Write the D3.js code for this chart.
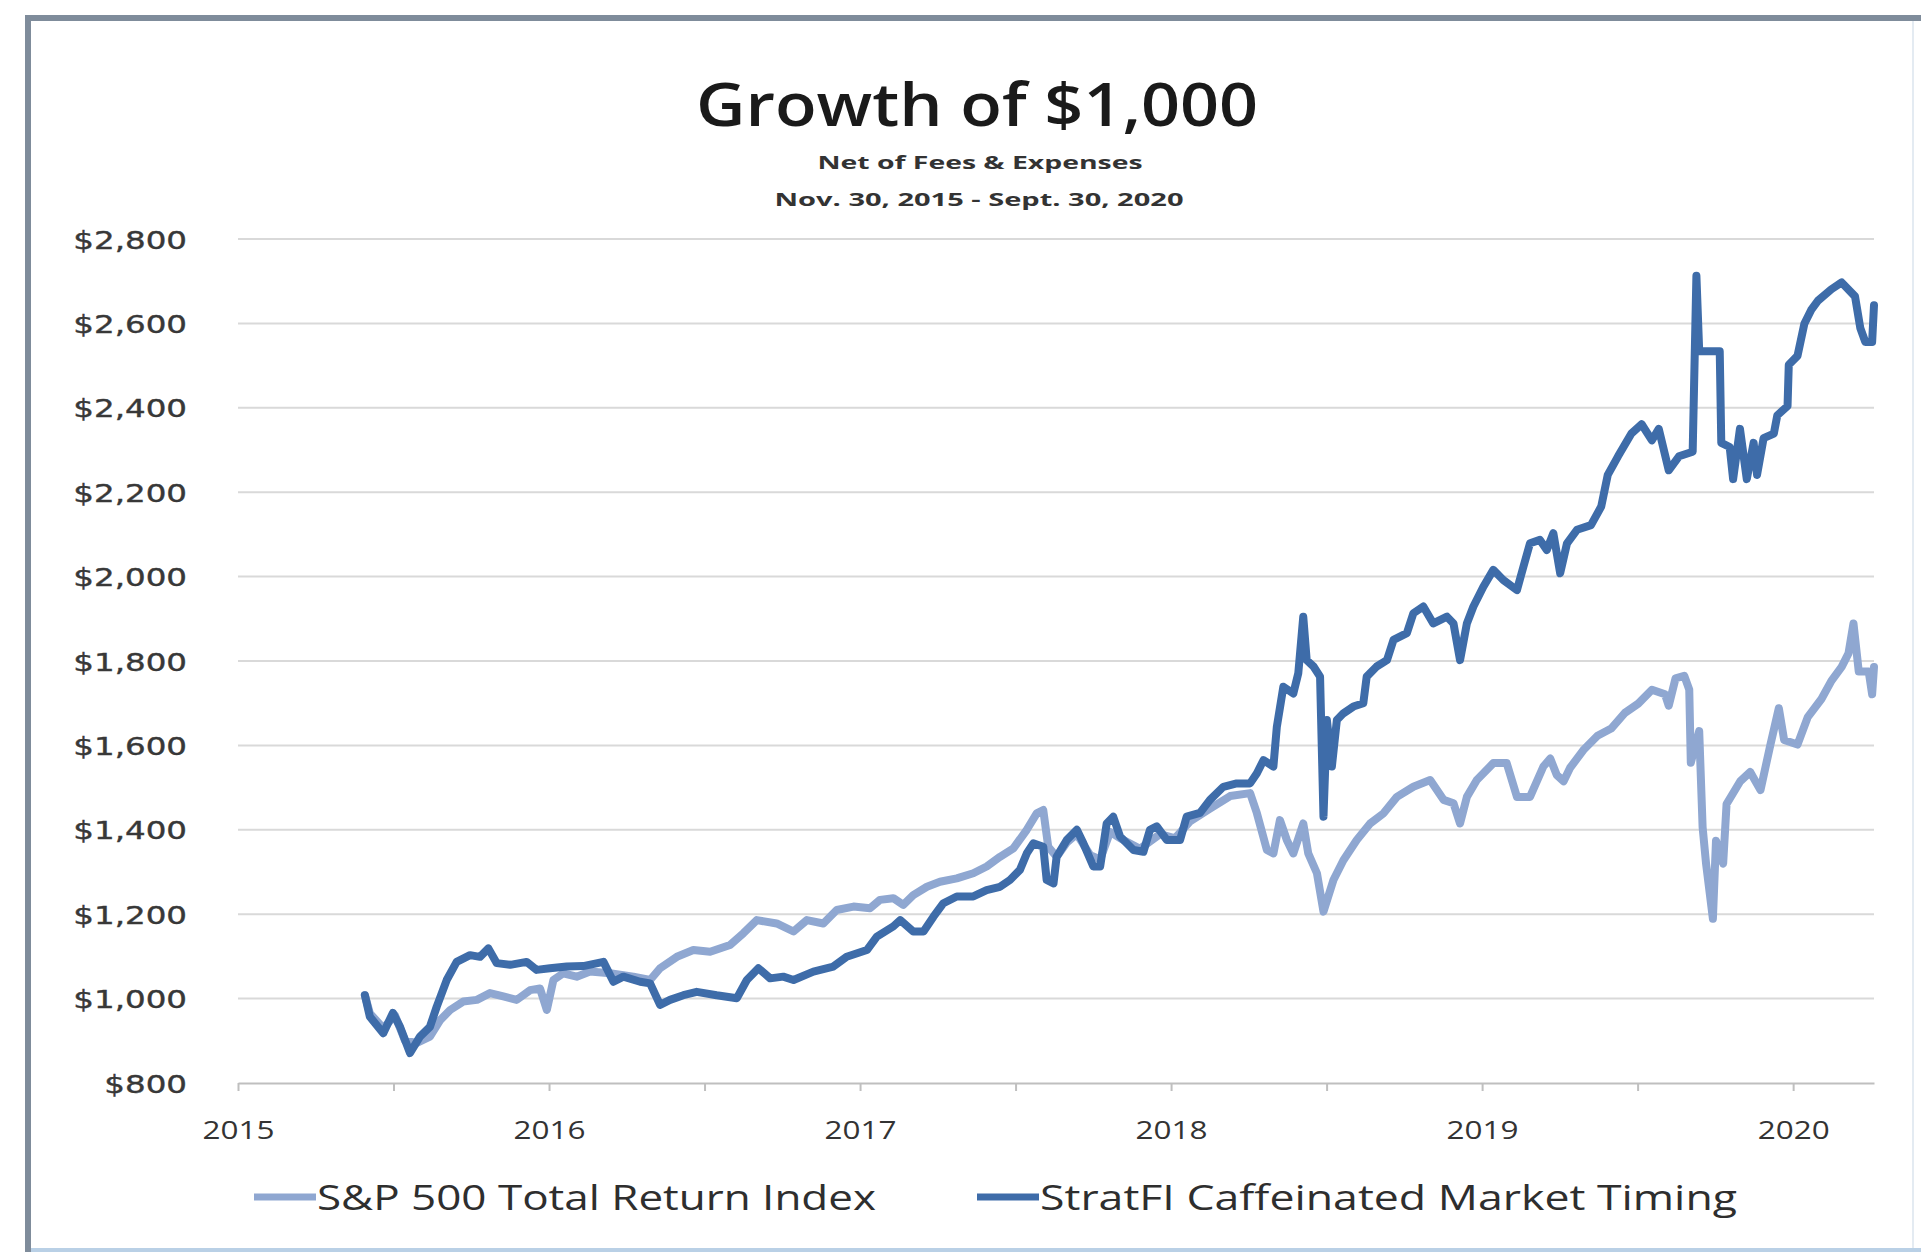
<!DOCTYPE html>
<html>
<head>
<meta charset="utf-8">
<script src="https://cdn.jsdelivr.net/npm/d3@7"></script>
<style>
  html, body { margin: 0; padding: 0; background: #ffffff; }
  svg { display: block; }
</style>
</head>
<body>
<svg id="chart" width="1921" height="1252"></svg>
<script>
// ---------- data (x = position on the chart's year axis, y = dollars) ----------
const yTicks = [800, 1000, 1200, 1400, 1600, 1800, 2000, 2200, 2400, 2600, 2800];
const xTickValues = [2015, 2015.5, 2016, 2016.5, 2017, 2017.5, 2018, 2018.5, 2019, 2019.5, 2020];
const xTickLabels = ["2015", "", "2016", "", "2017", "", "2018", "", "2019", "", "2020"];
const seriesNames = ["S&P 500 Total Return Index", "StratFI Caffeinated Market Timing"];

const sp500 = [
  [2015.408,1008],[2015.424,965],[2015.467,930],[2015.505,960],[2015.537,900],[2015.575,895],
  [2015.617,910],[2015.650,949],[2015.682,973],[2015.724,993],[2015.768,997],[2015.810,1013],
  [2015.853,1005],[2015.896,997],[2015.939,1020],[2015.971,1024],[2015.993,973],[2016.014,1044],
  [2016.046,1060],[2016.089,1052],[2016.132,1064],[2016.196,1060],[2016.271,1052],[2016.325,1044],
  [2016.357,1072],[2016.411,1099],[2016.464,1115],[2016.518,1111],[2016.582,1127],[2016.625,1155],
  [2016.668,1186],[2016.732,1178],[2016.786,1159],[2016.829,1186],[2016.882,1178],[2016.925,1210],
  [2016.979,1218],[2017.032,1214],[2017.064,1234],[2017.107,1238],[2017.139,1222],[2017.171,1245],
  [2017.215,1265],[2017.257,1277],[2017.311,1285],[2017.364,1297],[2017.407,1313],[2017.450,1336],
  [2017.493,1356],[2017.536,1400],[2017.568,1439],[2017.589,1447],[2017.605,1360],[2017.632,1336],
  [2017.665,1370],[2017.697,1390],[2017.740,1340],[2017.772,1330],[2017.804,1395],[2017.836,1380],
  [2017.900,1355],[2017.965,1390],[2018.013,1380],[2018.061,1420],[2018.125,1450],[2018.190,1480],
  [2018.254,1487],[2018.276,1439],[2018.308,1352],[2018.329,1344],[2018.350,1423],[2018.372,1376],
  [2018.393,1344],[2018.425,1415],[2018.441,1344],[2018.469,1297],[2018.490,1206],[2018.522,1281],
  [2018.554,1328],[2018.597,1376],[2018.640,1415],[2018.683,1439],[2018.726,1478],[2018.779,1502],
  [2018.833,1518],[2018.876,1471],[2018.908,1463],[2018.929,1415],[2018.951,1478],[2018.983,1518],
  [2019.036,1558],[2019.079,1558],[2019.112,1478],[2019.154,1478],[2019.197,1550],[2019.219,1569],
  [2019.240,1530],[2019.262,1515],[2019.283,1547],[2019.328,1591],[2019.371,1623],[2019.415,1640],
  [2019.459,1677],[2019.502,1699],[2019.546,1732],[2019.588,1721],[2019.600,1694],[2019.622,1759],
  [2019.650,1765],[2019.666,1732],[2019.671,1559],[2019.698,1634],[2019.709,1406],[2019.720,1320],
  [2019.742,1189],[2019.752,1374],[2019.775,1320],[2019.786,1461],[2019.830,1515],[2019.862,1537],
  [2019.895,1494],[2019.927,1602],[2019.954,1688],[2019.971,1613],[2020.014,1602],[2020.047,1667],
  [2020.091,1710],[2020.123,1753],[2020.156,1786],[2020.178,1818],[2020.194,1889],[2020.211,1775],
  [2020.243,1775],[2020.254,1721],[2020.260,1786]
];

const stratfi = [
  [2015.408,1008],[2015.424,957],[2015.467,918],[2015.498,966],[2015.521,933],[2015.553,871],
  [2015.585,910],[2015.617,933],[2015.639,981],[2015.671,1044],[2015.703,1087],[2015.746,1103],
  [2015.778,1099],[2015.805,1119],[2015.832,1084],[2015.875,1080],[2015.928,1087],[2015.960,1068],
  [2016.003,1072],[2016.057,1076],[2016.110,1077],[2016.175,1087],[2016.207,1040],[2016.239,1052],
  [2016.293,1040],[2016.325,1036],[2016.357,985],[2016.389,997],[2016.432,1008],[2016.475,1016],
  [2016.539,1008],[2016.604,1001],[2016.636,1044],[2016.673,1072],[2016.711,1048],[2016.753,1052],
  [2016.786,1044],[2016.850,1064],[2016.914,1076],[2016.957,1099],[2017.022,1115],[2017.054,1147],
  [2017.107,1171],[2017.129,1186],[2017.171,1159],[2017.204,1159],[2017.236,1194],[2017.268,1226],
  [2017.311,1242],[2017.364,1242],[2017.407,1257],[2017.450,1265],[2017.482,1281],[2017.514,1305],
  [2017.536,1344],[2017.557,1368],[2017.589,1360],[2017.600,1281],[2017.622,1273],[2017.632,1336],
  [2017.665,1376],[2017.697,1400],[2017.718,1368],[2017.750,1313],[2017.772,1313],[2017.793,1415],
  [2017.814,1431],[2017.836,1384],[2017.879,1352],[2017.911,1348],[2017.932,1400],[2017.954,1408],
  [2017.986,1376],[2018.029,1376],[2018.050,1431],[2018.093,1440],[2018.125,1471],[2018.168,1502],
  [2018.211,1510],[2018.254,1510],[2018.276,1534],[2018.297,1565],[2018.329,1550],[2018.340,1644],
  [2018.361,1739],[2018.393,1723],[2018.409,1771],[2018.425,1905],[2018.436,1802],[2018.458,1787],
  [2018.479,1763],[2018.490,1431],[2018.501,1660],[2018.517,1550],[2018.533,1660],[2018.554,1676],
  [2018.586,1692],[2018.618,1700],[2018.629,1763],[2018.661,1787],[2018.694,1802],[2018.715,1850],
  [2018.758,1866],[2018.779,1913],[2018.811,1929],[2018.843,1889],[2018.887,1905],[2018.908,1889],
  [2018.929,1802],[2018.951,1889],[2018.972,1929],[2019.004,1976],[2019.036,2016],[2019.068,1992],
  [2019.112,1968],[2019.133,2024],[2019.154,2079],[2019.186,2087],[2019.208,2063],[2019.229,2103],
  [2019.251,2008],[2019.273,2079],[2019.305,2111],[2019.350,2122],[2019.383,2166],[2019.404,2241],
  [2019.437,2285],[2019.480,2339],[2019.513,2361],[2019.546,2323],[2019.568,2350],[2019.600,2252],
  [2019.633,2285],[2019.677,2296],[2019.689,2713],[2019.698,2534],[2019.764,2534],[2019.769,2317],
  [2019.796,2307],[2019.807,2231],[2019.829,2350],[2019.851,2231],[2019.873,2317],[2019.884,2241],
  [2019.905,2328],[2019.938,2339],[2019.949,2382],[2019.982,2404],[2019.986,2502],[2020.014,2523],
  [2020.036,2599],[2020.058,2632],[2020.080,2654],[2020.123,2681],[2020.156,2697],[2020.199,2664],
  [2020.216,2589],[2020.232,2556],[2020.254,2556],[2020.260,2643]
];

const seriesData = [sp500, stratfi];
const seriesColors = ["#8fa7d1", "#3e6ca9"];

// ---------- layout ----------
const svg = d3.select("#chart");
const plot = { left: 238, right: 1874, top: 239, bottom: 1083 };

const x = d3.scaleLinear().domain([2015, 2020.26]).range([plot.left, plot.right]);
const y = d3.scaleLinear().domain([800, 2800]).range([plot.bottom, plot.top]);

function stretch(sel, factor) {
  sel.each(function () {
    const w = this.getComputedTextLength();
    d3.select(this).attr("textLength", w * factor).attr("lengthAdjust", "spacingAndGlyphs");
  });
}
function fitTo(sel, width) {
  sel.attr("textLength", width).attr("lengthAdjust", "spacingAndGlyphs");
}

// frame
svg.append("line").attr("x1", 28).attr("y1", 18).attr("x2", 1921).attr("y2", 18)
  .attr("stroke", "#7f8c9b").attr("stroke-width", 6);
svg.append("line").attr("x1", 28).attr("y1", 15).attr("x2", 28).attr("y2", 1252)
  .attr("stroke", "#7f8c9b").attr("stroke-width", 6);
svg.append("line").attr("x1", 1913).attr("y1", 21).attr("x2", 1913).attr("y2", 1250)
  .attr("stroke", "#e4ebf2").attr("stroke-width", 2);
svg.append("line").attr("x1", 31).attr("y1", 1250).attr("x2", 1921).attr("y2", 1250)
  .attr("stroke", "#b9d0e6").attr("stroke-width", 4);

// gridlines
svg.append("g").selectAll("line").data(yTicks.filter(d => d > 800)).join("line")
  .attr("x1", plot.left).attr("x2", plot.right)
  .attr("y1", d => y(d)).attr("y2", d => y(d))
  .attr("stroke", "#d9d9d9").attr("stroke-width", 2);

// y axis
const yAxis = svg.append("g").attr("transform", `translate(${plot.left},0)`)
  .call(d3.axisLeft(y).tickValues(yTicks).tickSize(0).tickPadding(51)
    .tickFormat(d => "$" + d3.format(",")(d)));
yAxis.select(".domain").remove();
yAxis.selectAll("text")
  .attr("font-family", "'DejaVu Sans', Verdana, sans-serif")
  .attr("font-size", 25).attr("fill", "#383838").attr("dy", "0.36em")
  .attr("stroke", "#383838").attr("stroke-width", 0.4);
stretch(yAxis.selectAll("text"), 1.3);

// x axis
const xAxis = svg.append("g").attr("transform", `translate(0,${plot.bottom})`)
  .call(d3.axisBottom(x).tickValues(xTickValues).tickSize(8).tickSizeOuter(0)
    .tickFormat((d, i) => xTickLabels[i]));
xAxis.select(".domain").attr("stroke", "#bfbfbf").attr("stroke-width", 2);
xAxis.selectAll(".tick line").attr("stroke", "#bfbfbf").attr("stroke-width", 2);
xAxis.selectAll("text")
  .attr("font-family", "'Open Sans', sans-serif").attr("font-size", 26)
  .attr("fill", "#333").attr("y", 56).attr("dy", 0);
xAxis.selectAll("text").filter(function () { return this.textContent !== ""; }).call(fitTo, 72);

// lines
const line = d3.line().x(d => x(d[0])).y(d => y(d[1]));
svg.append("g").selectAll("path").data(seriesData).join("path")
  .attr("d", d => line(d))
  .attr("fill", "none")
  .attr("stroke", (d, i) => seriesColors[i])
  .attr("stroke-width", 8)
  .attr("stroke-linejoin", "round")
  .attr("stroke-linecap", "round");

// title
svg.append("text").attr("x", 977).attr("y", 126).attr("text-anchor", "middle")
  .attr("font-family", "'Open Sans', sans-serif").attr("font-weight", 600)
  .attr("font-size", 60).attr("fill", "#1a1a1a")
  .text("Growth of $1,000").call(fitTo, 562);
svg.append("text").attr("x", 980).attr("y", 169).attr("text-anchor", "middle")
  .attr("font-family", "'Open Sans', sans-serif").attr("font-weight", 700)
  .attr("font-size", 18).attr("fill", "#333")
  .text("Net of Fees & Expenses").call(fitTo, 325);
svg.append("text").attr("x", 979).attr("y", 206).attr("text-anchor", "middle")
  .attr("font-family", "'Open Sans', sans-serif").attr("font-weight", 700)
  .attr("font-size", 18).attr("fill", "#333")
  .text("Nov. 30, 2015 - Sept. 30, 2020").call(fitTo, 409);

// legend
const legendPos = [{ x: 254, w: 559 }, { x: 977, w: 697 }];
const lg = svg.append("g").selectAll("g").data(seriesNames).join("g")
  .attr("transform", (d, i) => `translate(${legendPos[i].x},1197)`);
lg.append("line").attr("x1", 0).attr("x2", 62).attr("y1", 0).attr("y2", 0)
  .attr("stroke", (d, i) => seriesColors[i]).attr("stroke-width", 7);
lg.append("text").attr("x", 63).attr("y", 13)
  .attr("font-family", "'Open Sans', sans-serif").attr("font-size", 34)
  .attr("font-weight", 500)
  .attr("fill", "#2e2e2e")
  .text(d => d)
  .each(function (d, i) { d3.select(this).call(fitTo, legendPos[i].w); });
</script>
</body>
</html>
